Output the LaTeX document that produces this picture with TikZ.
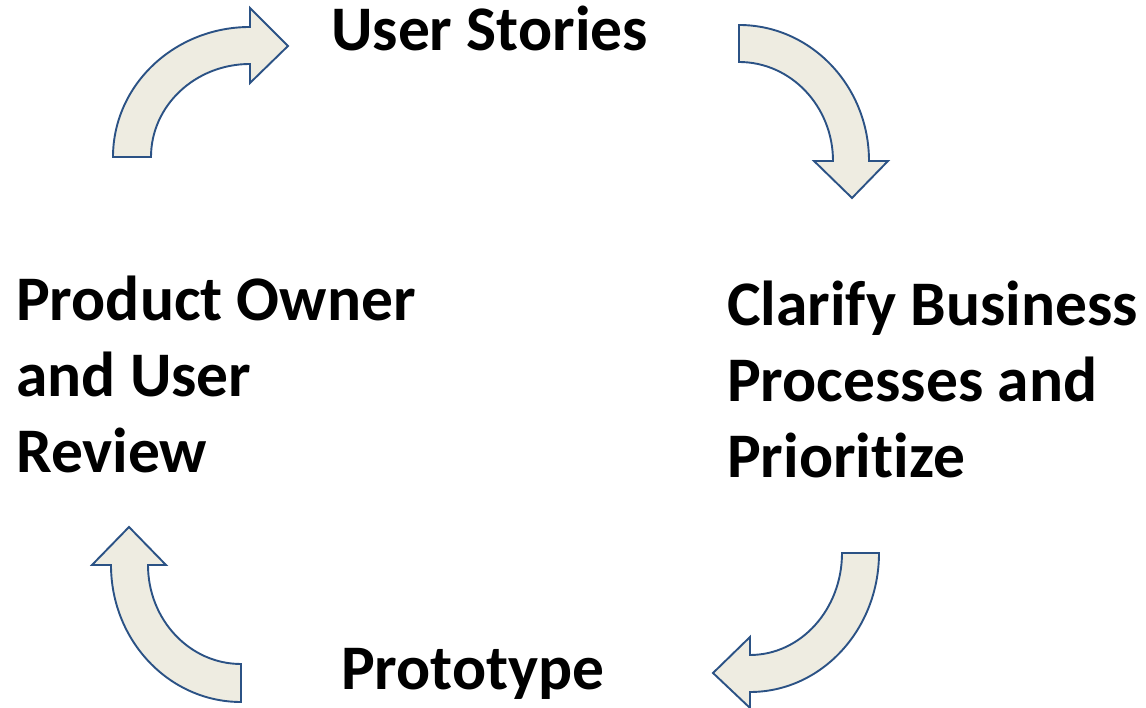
\documentclass[tikz,border=0pt]{standalone}
\usepackage{fontspec}
\setmainfont{Carlito}[Ligatures=NoCommon]
\definecolor{arrowfill}{HTML}{EEECE1}
\definecolor{arrowline}{HTML}{2B5285}
\begin{document}
\begin{tikzpicture}[x=1pt,y=1pt,
  bentarrow/.style={fill=arrowfill,draw=arrowline,line width=1.9pt,line join=miter},
  steplabel/.style={inner sep=0pt,align=left,anchor=base west,
    font=\fontsize{63.5}{76}\selectfont\bfseries}]
\useasboundingbox (0,0) rectangle (1146,708);

% curved arrows of the cycle
\draw[bentarrow] (113,551) arc[start angle=180,end angle=90,x radius=137,y radius=130]
  -- (250,700) -- (288,662) -- (250,625) -- (250,644)
  arc[start angle=90,end angle=180,x radius=99,y radius=93] -- cycle;
\draw[bentarrow] (739,683) arc[start angle=90,end angle=0,x radius=130,y radius=136]
  -- (888,547) -- (852,510) -- (814,547) -- (833,547)
  arc[start angle=0,end angle=90,x radius=94,y radius=99] -- cycle;
\draw[bentarrow] (879,155) arc[start angle=0,end angle=-90,x radius=129,y radius=139]
  -- (750,0) -- (713,35) -- (750,71) -- (750,53)
  arc[start angle=-90,end angle=0,x radius=92,y radius=102] -- cycle;
\draw[bentarrow] (241,6) arc[start angle=-90,end angle=-180,x radius=130,y radius=137]
  -- (92,143) -- (129,181) -- (166,143) -- (148,143)
  arc[start angle=180,end angle=270,x radius=93,y radius=99] -- cycle;

% labels (multi-line ones are anchored on their last baseline)
\node[steplabel] (stories) at (331,657) {User Stories};
\node[steplabel] (clarify) at (727,230) {Clarify Business\\Processes and\\Prioritize};
\node[steplabel] (proto) at (341,18) {Prototype};
\node[steplabel] (review) at (16,235) {Product Owner\\and User\\Review};
\end{tikzpicture}
\end{document}
